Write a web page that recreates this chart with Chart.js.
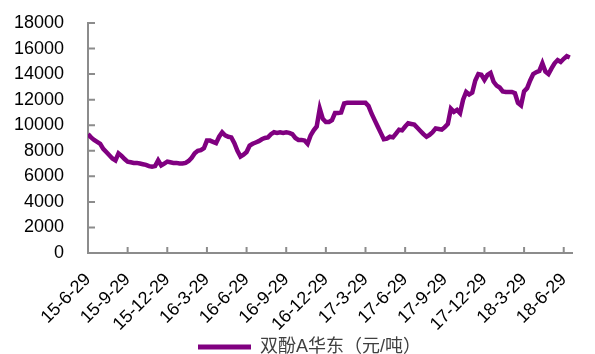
<!DOCTYPE html>
<html lang="zh">
<head>
<meta charset="UTF-8">
<title>双酚A华东</title>
<script src="https://cdn.jsdelivr.net/npm/chart.js@4.4.1/dist/chart.umd.min.js"></script>
<style>
  html, body { margin: 0; padding: 0; background: #fff; }
  .wrap { width: 595px; height: 354px; position: relative; }
</style>
</head>
<body>
<div class="wrap"><canvas id="chart"></canvas></div>
<script>
// weekly price, 2015-06-29 .. 2018-07
const seriesName = "双酚A华东（元/吨）";
const tickLabels = ["15-6-29", "15-9-29", "15-12-29", "16-3-29", "16-6-29", "16-9-29", "16-12-29",
  "17-3-29", "17-6-29", "17-9-29", "17-12-29", "18-3-29", "18-6-29"];
const weeksPerTick = 13;
const prices = [
  9300, 9050, 8850, 8700, 8550, 8150, 7900, 7650, 7400, 7250, 7800, 7600, 7350,
  7150, 7100, 7050, 7050, 7000, 6950, 6900, 6800, 6750, 6800, 7250, 6850, 7000,
  7150, 7100, 7050, 7050, 7000, 7000, 7050, 7200, 7450, 7800, 8000, 8050, 8200,
  8800, 8800, 8700, 8600, 9100, 9450, 9200, 9100, 9050, 8600, 8000, 7550, 7700,
  7900, 8400, 8550, 8650, 8750, 8900, 9000, 9050, 9300, 9450, 9400, 9450, 9400,
  9450, 9400, 9300, 9000, 8850, 8850, 8800, 8550, 9200, 9600, 9900, 11300, 10500,
  10250, 10250, 10400, 10950, 10950, 11000, 11700, 11750, 11750, 11750, 11750, 11750, 11750,
  11750, 11500, 10900, 10400, 9900, 9400, 8900, 8950, 9100, 9050, 9350, 9650, 9600,
  9900, 10150, 10100, 10050, 9800, 9550, 9300, 9100, 9250, 9450, 9750, 9700, 9650,
  9850, 10100, 11300, 11050, 11200, 10950, 12000, 12600, 12400, 12550, 13500, 14000, 13950,
  13550, 13950, 14100, 13400, 13100, 12950, 12650, 12600, 12600, 12600, 12500, 11750, 11550,
  12650, 12900, 13500, 14000, 14150, 14250, 14850, 14200, 14000, 14450, 14850, 15100, 14950,
  15200, 15400, 15300
];
const yMin = 0, yMax = 18000, yStep = 2000;

const lineColor = "#800080";
const axisColor = "#8c8c8c";
const fontFamily = "'Liberation Sans', Arial, 'Noto Sans CJK SC', sans-serif";

// Excel style: short tick marks pointing into the plot
const innerTicks = {
  id: "innerTicks",
  afterLayout(chart) {
    // nudge legend a bit right, it sits centred under the plot in the original
    chart.legend.left += 14;
  },
  beforeDatasetsDraw(chart) {
    const { ctx, chartArea, scales } = chart;
    ctx.save();
    ctx.strokeStyle = axisColor;
    ctx.lineWidth = 2;
    ctx.beginPath();
    scales.y.ticks.forEach(t => {
      const py = scales.y.getPixelForValue(t.value);
      ctx.moveTo(chartArea.left, py);
      ctx.lineTo(chartArea.left + 7, py);
    });
    scales.x.ticks.forEach(t => {
      const px = scales.x.getPixelForValue(t.value);
      ctx.moveTo(px, chartArea.bottom);
      ctx.lineTo(px, chartArea.bottom - 6);
    });
    ctx.stroke();
    ctx.restore();
  }
};

new Chart(document.getElementById("chart"), {
  type: "line",
  data: {
    datasets: [{
      label: seriesName,
      data: prices.map((v, i) => ({ x: i, y: v })),
      borderColor: lineColor,
      backgroundColor: lineColor,
      borderWidth: 4.5,
      pointRadius: 0,
      tension: 0
    }]
  },
  plugins: [innerTicks],
  options: {
    responsive: true,
    maintainAspectRatio: false,
    animation: false,
    layout: { autoPadding: false, padding: { top: 23, left: 10, right: 0, bottom: -12 } },
    plugins: {
      tooltip: { enabled: false },
      legend: {
        position: "bottom",
        labels: {
          color: "#404040",
          font: { family: fontFamily, size: 18 },
          boxWidth: 53,
          boxHeight: 5,
          padding: 2,
          generateLabels: (chart) => chart.data.datasets.map((ds, i) => ({
            text: ds.label,
            fillStyle: ds.borderColor,
            strokeStyle: ds.borderColor,
            lineWidth: 0,
            fontColor: "#404040",
            datasetIndex: i
          }))
        }
      }
    },
    scales: {
      x: {
        type: "linear",
        min: 0,
        max: 158.8,
        afterBuildTicks: (scale) => {
          scale.ticks = tickLabels.map((_, k) => ({ value: k * weeksPerTick }));
        },
        afterFit: (scale) => { scale.height = 83; },
        grid: { display: false, drawTicks: false },
        border: { display: true, color: axisColor, width: 2 },
        ticks: {
          autoSkip: false,
          maxRotation: 45,
          minRotation: 45,
          padding: 16,
          color: "#000",
          font: { family: fontFamily, size: 18 },
          callback: (v) => tickLabels[Math.round(v / weeksPerTick)]
        }
      },
      y: {
        min: yMin,
        max: yMax,
        afterFit: (scale) => {
          scale.width = 78;
          scale.paddingTop = 0;
          scale.paddingBottom = 0;
        },
        grid: { display: false, drawTicks: false },
        border: { display: true, color: axisColor, width: 2 },
        ticks: {
          stepSize: yStep,
          autoSkip: false,
          padding: 24,
          color: "#000",
          font: { family: fontFamily, size: 18 },
          callback: (v) => String(v)
        }
      }
    }
  }
});
</script>
</body>
</html>
